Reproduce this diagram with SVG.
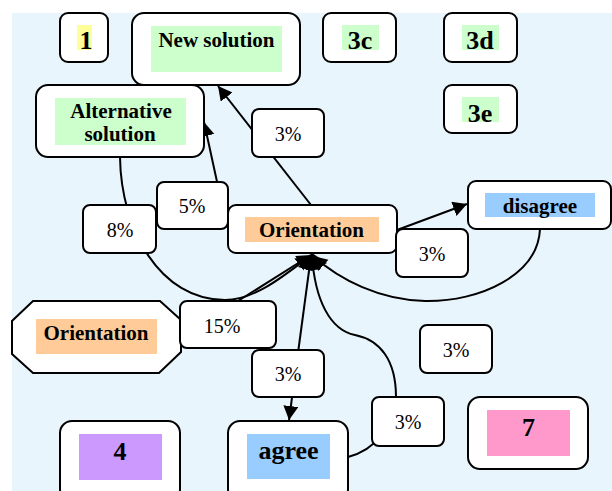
<svg xmlns="http://www.w3.org/2000/svg" width="612" height="491" viewBox="0 0 612 491">
<style>
.box{fill:#fff;stroke:#000;stroke-width:2}
.lbl{fill:#fff;stroke:#000;stroke-width:2}
.edge{fill:none;stroke:#000;stroke-width:2}
text{font-family:'Liberation Serif',Tinos,'Nimbus Roman','Nimbus Roman No9 L',FreeSerif,'Times New Roman',Times,'DejaVu Serif',serif}
.t{font-weight:bold;font-size:21px;fill:#000;text-anchor:middle}
.big{font-size:26px}
.p{font-size:20px;fill:#000;text-anchor:middle}
</style>
<defs>
<marker id="ah" markerUnits="userSpaceOnUse" markerWidth="16" markerHeight="16" refX="14" refY="7.5" orient="auto" viewBox="0 0 16 16">
<path d="M0,0 L14,7.5 L0,15 z" fill="#000"/>
</marker>
</defs>
<rect x="0" y="0" width="612" height="491" fill="#fff"/>
<rect x="12" y="13" width="600" height="478" fill="#e9f5fd"/>
<g id="connectors">
<path class="edge" d="M311,205 L218,86" marker-end="url(#ah)"/>
<path class="edge" d="M221,200 L204,122" marker-end="url(#ah)"/>
<path class="edge" d="M397,230 L467,204" marker-end="url(#ah)"/>
<path class="edge" d="M120,157 C121,230 160,300 225,300 C255,300 285,275 310,256" marker-end="url(#ah)"/>
<path class="edge" d="M200,325 L311,255" marker-end="url(#ah)"/>
<path class="edge" d="M540,229 C538,275 480,302 425,301 C380,300 340,280 313,256" marker-end="url(#ah)"/>
<path class="edge" d="M348,457 C375,450 396,425 396,397 C396,360 380,340 355,335 C330,330 315,300 312,256" marker-end="url(#ah)"/>
<path class="edge" d="M311,256 L289,420" marker-end="url(#ah)"/>
<path d="M312,253 L327,263 L312,271 L298,267 z" fill="#000"/>
</g>
<g id="n1">
<rect class="box" x="60" y="13" width="48" height="49" rx="8"/>
<rect x="77" y="25" width="15" height="25" fill="#ffff99"/>
<text class="t big" x="86" y="49">1</text>
</g>
<g id="newsolution">
<rect class="box" x="132" y="13" width="168" height="72" rx="12"/>
<rect x="151" y="26" width="131" height="46" fill="#ccffcc"/>
<text class="t" x="216.5" y="47">New solution</text>
</g>
<g id="n3c">
<rect class="box" x="323" y="13" width="73" height="49" rx="8"/>
<rect x="342" y="25" width="37" height="25" fill="#ccffcc"/>
<text class="t big" x="360" y="49">3c</text>
</g>
<g id="n3d">
<rect class="box" x="444" y="13" width="73" height="49" rx="8"/>
<rect x="462" y="25" width="37" height="25" fill="#ccffcc"/>
<text class="t big" x="480" y="49">3d</text>
</g>
<g id="n3e">
<rect class="box" x="444" y="85" width="73" height="48" rx="8"/>
<rect x="462" y="97" width="37" height="25" fill="#ccffcc"/>
<text class="t big" x="480" y="122">3e</text>
</g>
<g id="altsolution">
<rect class="box" x="36" y="85" width="168" height="72" rx="12"/>
<rect x="55" y="98" width="131" height="47" fill="#ccffcc"/>
<text class="t" x="121" y="118">Alternative</text>
<text class="t" x="120" y="141">solution</text>
</g>
<g id="orientation">
<rect class="box" x="228" y="205" width="169" height="48" rx="8"/>
<rect x="245" y="217" width="134" height="25" fill="#ffcc99"/>
<text class="t" x="311.5" y="237">Orientation</text>
</g>
<g id="disagree">
<rect class="box" x="468" y="181" width="143" height="48" rx="8"/>
<rect x="485" y="193" width="110" height="24" fill="#99ccff"/>
<text class="t" x="540" y="213">disagree</text>
</g>
<g id="orientation2">
<polygon class="box" points="33,301 160,301 181,320 181,352 159,373 33,373 12,354 12,321"/>
<rect x="36" y="319" width="121" height="35" fill="#ffcc99"/>
<text class="t" x="96" y="340">Orientation</text>
</g>
<g id="n4">
<rect class="box" x="60" y="421" width="120" height="80" rx="12"/>
<rect x="79" y="434" width="83" height="46" fill="#cc99ff"/>
<text class="t big" x="120" y="460">4</text>
</g>
<g id="agree">
<rect class="box" x="228" y="421" width="120" height="80" rx="12"/>
<rect x="247" y="434" width="83" height="45" fill="#99ccff"/>
<text class="t big" x="288.5" y="459">agree</text>
</g>
<g id="n7">
<rect class="box" x="468" y="397" width="120" height="72" rx="12"/>
<rect x="487" y="410" width="83" height="46" fill="#ff99cc"/>
<text class="t big" x="528.5" y="436">7</text>
</g>
<g id="labels">
<g id="l1"><rect class="lbl" x="252" y="109" width="72" height="48" rx="7"/><text class="p" x="288" y="141">3%</text></g>
<g id="l2"><rect class="lbl" x="157" y="182" width="71" height="47" rx="7"/><text class="p" x="192" y="213">5%</text></g>
<g id="l3"><rect class="lbl" x="83" y="205" width="73" height="48" rx="7"/><text class="p" x="120" y="237">8%</text></g>
<g id="l4"><rect class="lbl" x="396" y="229" width="72" height="48" rx="7"/><text class="p" x="432" y="261">3%</text></g>
<g id="l5"><rect class="lbl" x="180" y="301" width="96" height="47" rx="7"/><text class="p" x="222" y="333">15%</text></g>
<g id="l6"><rect class="lbl" x="252" y="350" width="72" height="47" rx="7"/><text class="p" x="288" y="381">3%</text></g>
<g id="l7"><rect class="lbl" x="372" y="397" width="72" height="49" rx="7"/><text class="p" x="408" y="429">3%</text></g>
<g id="l8"><rect class="lbl" x="420" y="325" width="72" height="48" rx="7"/><text class="p" x="456" y="357">3%</text></g>
</g>
</svg>
